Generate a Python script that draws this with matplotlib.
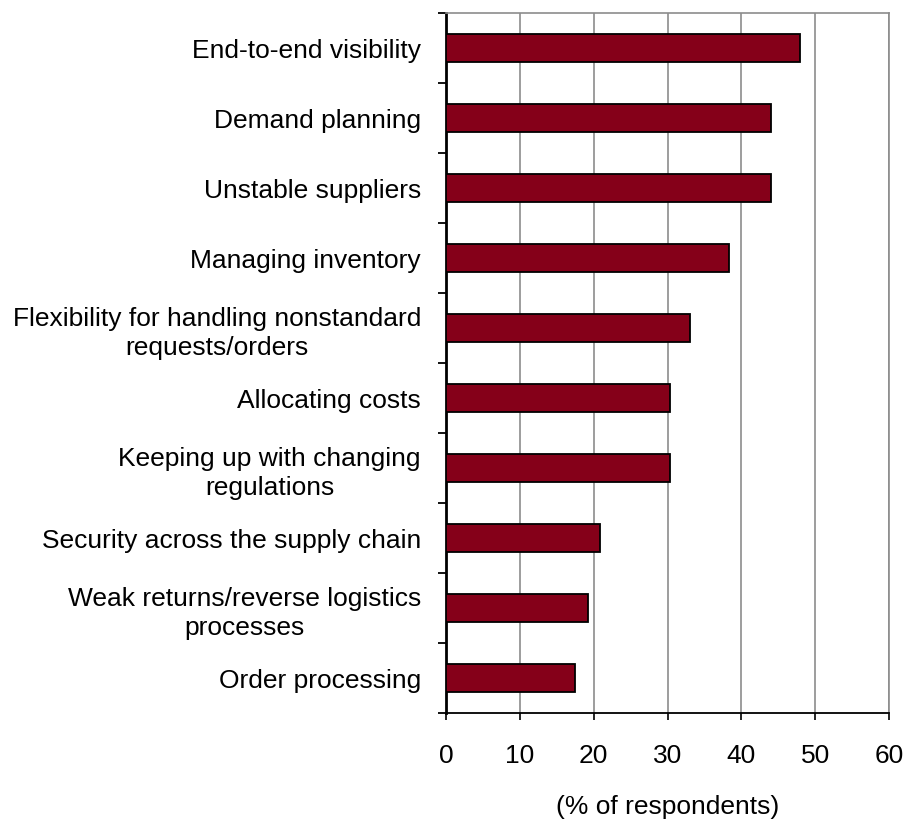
import matplotlib.pyplot as plt
import numpy as np

plt.rcParams['font.family'] = ['Liberation Sans', 'DejaVu Sans']

# 응답 항목과 비율(%)
categories = [
    "End-to-end visibility",
    "Demand planning",
    "Unstable suppliers",
    "Managing inventory",
    "Flexibility for handling nonstandard\nrequests/orders",
    "Allocating costs",
    "Keeping up with changing\nregulations",
    "Security across the supply chain",
    "Weak returns/reverse logistics\nprocesses",
    "Order processing",
]
values = [48, 44, 44, 38.3, 33, 30.4, 30.4, 20.8, 19.3, 17.5]
xticks = [0, 10, 20, 30, 40, 50, 60]

fig = plt.figure(figsize=(9.07, 8.19), dpi=100)
ax = fig.add_axes([0.4917, 0.1294, 0.4885, 0.8547])

y = np.arange(len(categories))
ax.barh(y, values, height=0.4, color="#850019", edgecolor="black", linewidth=1.3, zorder=3)

ax.set_ylim(len(categories) - 0.5, -0.5)
ax.set_xlim(0, 60)
ax.set_xticks(xticks)
ax.set_xticklabels([str(v) for v in xticks], fontsize=19)

# 항목 경계에 눈금, 라벨은 항목 중앙
ax.set_yticks(np.arange(len(categories) + 1) - 0.5)
ax.set_yticklabels([])
ax.set_yticks(y, minor=True)
ax.set_yticklabels(categories, minor=True, fontsize=19, multialignment="center", linespacing=1.3)
ax.tick_params(axis="y", which="minor", length=0, pad=18)
ax.tick_params(axis="y", which="major", length=6, width=1.3, direction="out")
ax.tick_params(axis="x", length=5, width=1.2, pad=17)

ax.grid(axis="x", color="#8c8c8c", linewidth=1.2, zorder=0)
ax.spines["left"].set_linewidth(2)
ax.spines["left"].set_color("black")
ax.spines["bottom"].set_linewidth(1.3)
ax.spines["top"].set_color("#8c8c8c")
ax.spines["right"].set_color("#8c8c8c")
ax.spines["top"].set_linewidth(1.2)
ax.spines["right"].set_linewidth(1.2)

ax.set_xlabel("(% of respondents)", fontsize=19, labelpad=20)

fig.savefig("out.png", dpi=100)
